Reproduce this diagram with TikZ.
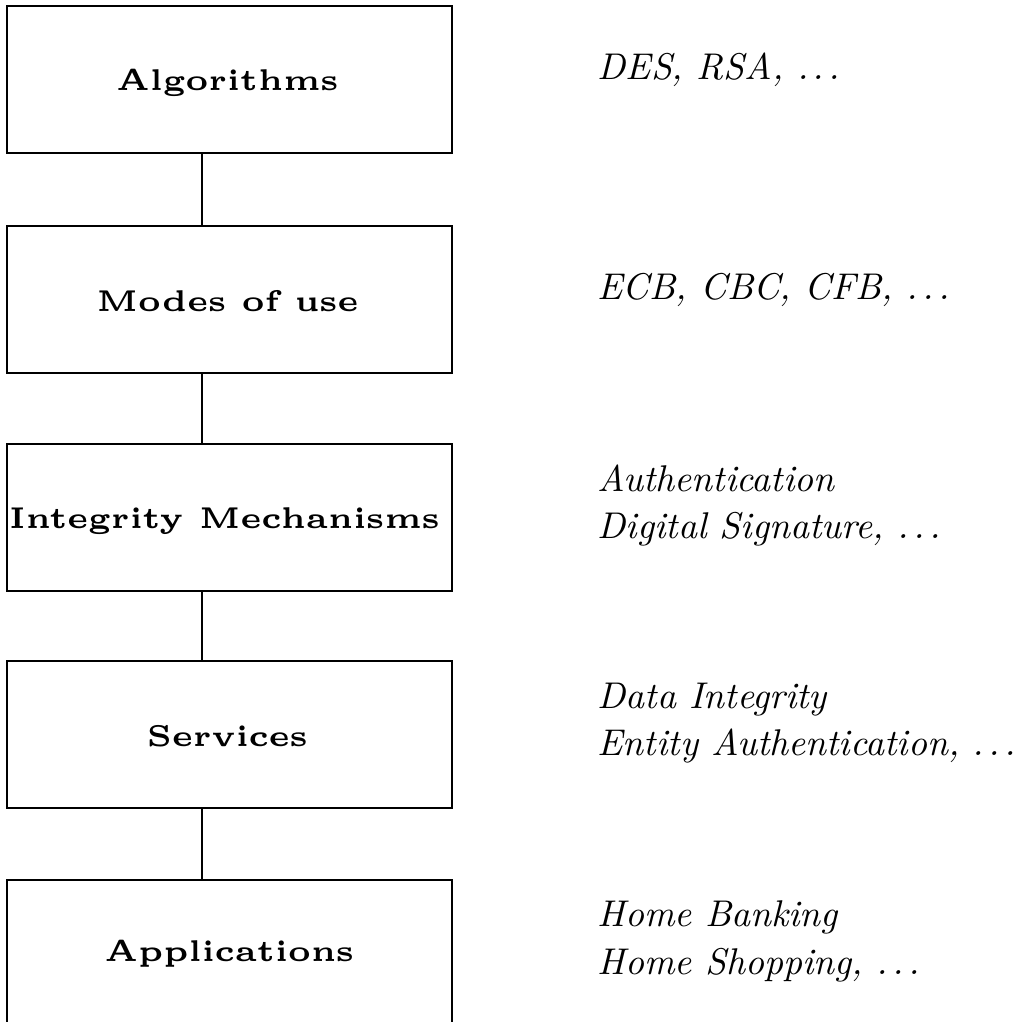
\documentclass[tikz,border=0pt]{standalone}
\usetikzlibrary{calc}
\newcommand\mydots{.\kern.12em.\kern.12em.}
\begin{document}
\begin{tikzpicture}[x=1pt,y=-1pt,
  layer/.style={draw, line width=1.8pt, minimum width=445pt, minimum height=147pt, inner sep=0pt, anchor=north west},
  lbl/.style={anchor=base, scale=6.0, font=\fontsize{5}{6}\selectfont\bfseries, inner sep=0pt},
  ex/.style={anchor=base west, inner sep=0pt, scale=3.72, font=\fontsize{10}{12}\selectfont\itshape},
  conn/.style={line width=1.1pt}]
\useasboundingbox (0,0) rectangle (1018,1022);
\coordinate (cx) at (202,0);
\coordinate (ex0) at (597,0);
\node[layer] (b1) at (6,5) {};
\node[layer] (b2) at (6,225) {};
\node[layer] (b3) at (6,443) {};
\node[layer] (b4) at (6,660) {};
\node[layer] (b5) at (6,879) {};
\node[lbl] (l1) at ($(b1.center)+(-2,11)$) {Algorithms};
\node[lbl] (l2) at ($(b2.center)+(-2,12)$) {Modes of use};
\node[lbl] (l3) at ($(b3.center)+(-5,11)$) {Integrity Mechanisms};
\node[lbl] (l4) at ($(b4.center)+(-2,12)$) {Services};
\node[lbl] (l5) at ($(b5.center)+(0,8)$) {Applications};
\draw[conn] (b1.south -| cx) -- (b2.north -| cx);
\draw[conn] (b2.south -| cx) -- (b3.north -| cx);
\draw[conn] (b3.south -| cx) -- (b4.north -| cx);
\draw[conn] (b4.south -| cx) -- (b5.north -| cx);
\node[ex] (e1) at (b1.center -| ex0) {DES, RSA, \mydots};
\node[ex] (e2) at (b2.center -| ex0) {ECB, CBC, CFB, \mydots};
\node[ex] (e3a) at ($(b3.center -| ex0)+(0,-26)$) {Authentication};
\node[ex] (e3b) at ($(b3.center -| ex0)+(0,21)$) {Digital Signature, \mydots};
\node[ex] (e4a) at ($(b4.center -| ex0)+(0,-26)$) {Data Integrity};
\node[ex] (e4b) at ($(b4.center -| ex0)+(0,21)$) {Entity Authentication, \mydots};
\node[ex] (e5a) at ($(b5.center -| ex0)+(0,-27)$) {Home Banking};
\node[ex] (e5b) at ($(b5.center -| ex0)+(0,21)$) {Home Shopping, \mydots};
\end{tikzpicture}
\end{document}
